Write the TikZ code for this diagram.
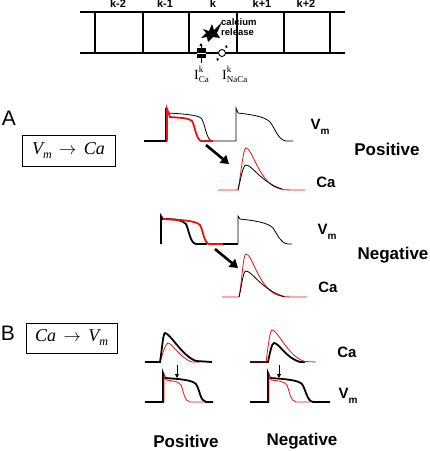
\documentclass[tikz,border=0pt]{standalone}
\usepackage{fontspec}
\setmainfont{Liberation Sans}
\newfontfamily\tms{Liberation Serif}
\usetikzlibrary{arrows.meta}
\definecolor{apred}{RGB}{230,20,20}
\begin{document}
\begin{tikzpicture}[x=1pt,y=-1pt,
  cable/.style={line width=1.4pt},
  klbl/.style={font=\bfseries\fontsize{11}{11}\selectfont, inner sep=0pt},
  sig/.style={font=\bfseries\fontsize{15}{15}\selectfont, inner sep=0pt},
  big/.style={font=\bfseries\fontsize{17}{17}\selectfont, inner sep=0pt},
  panel/.style={font=\fontsize{21}{21}\selectfont, inner sep=0pt},
  eqbox/.style={draw, line width=0.8pt, minimum width=93pt, minimum height=31pt, inner sep=0pt, font=\tms\itshape\fontsize{18}{18}\selectfont},
  bk/.style={line width=0.8pt, black},
  bkt/.style={line width=1.8pt, black},
  rd/.style={line width=0.8pt, apred},
  rdt/.style={line width=1.8pt, apred},
  bigarrow/.style={line width=2.6pt, -{Triangle[length=8pt,width=10pt]}},
  smallarrow/.style={line width=0.9pt, -{Triangle[length=4pt,width=4pt]}}
]
\useasboundingbox[fill=white] (0,0) rectangle (430,451);

% ---------- cable ----------
\coordinate (cL1) at (80,12); \coordinate (cR1) at (345,12);
\coordinate (cL2) at (80,53); \coordinate (cR2) at (345,53);
\draw[cable] (cL1) -- (cR1);
\draw[cable] (cL2) -- (cR2);
\foreach \x in {95,143,189,237,284,330} \draw[cable] (\x,12) -- (\x,53);
\node[klbl] (k2m) at (118,4) {k-2};
\node[klbl] (k1m) at (165,4) {k-1};
\node[klbl] (k0) at (213,4) {k};
\node[klbl] (k1p) at (262,4) {k+1};
\node[klbl] (k2p) at (306,4) {k+2};
\node[font=\bfseries\fontsize{9.5}{10.5}\selectfont, align=left, inner sep=0pt, anchor=west] (rel) at (221,27) {calcium\\release};
% starburst
\fill (212,24) -- (214,30) -- (222,22) -- (217,33) -- (220,38) -- (213,37) -- (208,42) -- (207,37) -- (201,38) -- (206,33) -- (203,29) -- (209,31) -- cycle;
% I_Ca channel
\draw[line width=0.8pt, -{Triangle[length=3pt,width=3pt]}] (201,63) -- (201,43);
\fill (197,48) rectangle (206,58);
\draw[white, line width=0.5pt] (197,53) -- (206,53);
% NaCa exchanger
\node[draw, circle, fill=white, line width=0.9pt, minimum size=7pt, inner sep=0pt] (nax) at (222,53) {};
\draw[line width=0.7pt, -{Triangle[length=2.5pt,width=2.5pt]}] (218,58) -- (217,61);
\draw[line width=0.7pt, -{Triangle[length=2.5pt,width=2.5pt]}] (226,48) -- (227,45);
\node[font=\tms\fontsize{14}{14}\selectfont, inner sep=0pt, anchor=base west] (ica) at (194,79) {I\rlap{\raisebox{7pt}{\fontsize{9}{9}\selectfont k}}\raisebox{-3pt}{\fontsize{9}{9}\selectfont Ca}};
\node[font=\tms\fontsize{14}{14}\selectfont, inner sep=0pt, anchor=base west] (inaca) at (222,79) {I\rlap{\raisebox{7pt}{\fontsize{9}{9}\selectfont k}}\raisebox{-3pt}{\fontsize{9}{9}\selectfont NaCa}};

% ---------- Panel A ----------
\node[panel] (pA) at (9,118) {A};
\node[eqbox] (boxA) at (68.5,150.5) {V\raisebox{-4pt}{\fontsize{12}{12}\selectfont m}\ \,$\rightarrow$\ \,Ca};

% positive Vm
\draw[bkt] (144,141) -- (166,141) -- (166,108);
\draw[bk] (166,108) -- (168,113) .. controls (185,114) and (197,115) .. (201,118) .. controls (205,122) and (206,140) .. (212,141) -- (236,141) -- (236,108) -- (238,113) .. controls (255,115) and (265,117) .. (270,122) .. controls (275,128) and (278,140) .. (286,141) -- (293,141);
\draw[rdt] (167,141) -- (167,109) -- (170,117) .. controls (182,118) and (189,118) .. (192,121) .. controls (195,126) and (196,139) .. (201,141) -- (213,141);
\coordinate (aP1) at (206,145); \coordinate (aP2) at (229,164);
\draw[bigarrow] (aP1) -- (aP2);
% positive Ca
\draw[rd] (218,190) -- (238,190) .. controls (241,175) and (243,148) .. (246,148) .. controls (252,148) and (258,178) .. (275,187) .. controls (282,190) .. (305,190);
\draw[bk] (238,190) .. controls (241,178) and (243,165) .. (246,165) .. controls (252,165) and (262,183) .. (282,189);
\node[sig] (vA1) at (320,127) {V\raisebox{-5pt}{\fontsize{10}{10}\selectfont m}};
\node[big] (posA) at (387,149) {Positive};
\node[sig] (caA1) at (326,182) {Ca};

% negative Vm
\draw[bkt] (161,244) -- (161,216) -- (163,219) .. controls (175,219) and (182,220) .. (186,224) .. controls (189,230) and (190,243) .. (196,244) -- (207,244);
\draw[rdt] (163,219) .. controls (185,220) and (196,221) .. (200,225) .. controls (203,230) and (204,243) .. (209,244) -- (223,244);
\draw[bkt] (223,244) -- (238,244);
\draw[bk] (238,244) -- (238,216) -- (240,219) .. controls (258,221) and (268,223) .. (273,228) .. controls (278,235) and (280,243) .. (288,244) -- (292,244);
\coordinate (aN1) at (215,249); \coordinate (aN2) at (238,268);
\draw[bigarrow] (aN1) -- (aN2);
% negative Ca
\draw[rd] (222,297) -- (239,297) .. controls (242,282) and (243,254) .. (246,254) .. controls (252,254) and (258,285) .. (275,294) .. controls (282,297) .. (307,297);
\draw[bk] (239,297) .. controls (242,285) and (243,271) .. (246,271) .. controls (252,271) and (262,290) .. (284,296.5);
\node[sig] (vA2) at (327,232) {V\raisebox{-5pt}{\fontsize{10}{10}\selectfont m}};
\node[big] (negA) at (393,255) {Negative};
\node[sig] (caA2) at (328,287) {Ca};

% ---------- Panel B ----------
\node[panel] (pB) at (8,333) {B};
\node[eqbox, minimum width=91pt, minimum height=30pt] (boxB) at (71.5,338) {Ca\ \,$\rightarrow$\ \,V\raisebox{-4pt}{\fontsize{12}{12}\selectfont m}};

% positive Ca
\draw[rd] (160,362) .. controls (163,352) and (166,343) .. (168,343) .. controls (172,343) and (180,358) .. (192,362) -- (200,362);
\draw[bkt] (145,362) -- (160,362) .. controls (162,350) and (163,333) .. (165,333) .. controls (170,333) and (182,356) .. (196,361) -- (212,362);
\coordinate (sP1) at (177,365); \coordinate (sP2) at (177,378);
\draw[smallarrow] (sP1) -- (sP2);
% positive Vm
\draw[bkt] (145,402) -- (163,402) -- (163,373) -- (165,378) .. controls (180,379) and (192,380) .. (196,384) .. controls (200,390) and (200,401) .. (206,402) -- (213,402);
\draw[rd] (164,402) -- (164,375) -- (166,380) .. controls (172,381) and (178,381) .. (181,385) .. controls (184,392) and (184,401) .. (190,402) -- (205,402);

% negative Ca
\draw[bkt] (250,362) -- (268,362) .. controls (270,352) and (272,343) .. (274,343) .. controls (279,343) and (286,358) .. (300,362) -- (305,362);
\draw[rd] (250,362) -- (266,362) .. controls (268,347) and (270,330) .. (272,330) .. controls (278,330) and (288,357) .. (305,361.5) -- (316,362);
\coordinate (sN1) at (279,365); \coordinate (sN2) at (279,378);
\draw[smallarrow] (sN1) -- (sN2);
% negative Vm
\draw[bkt] (250,402) -- (268,402) -- (268,373) -- (270,378) .. controls (285,379) and (298,380) .. (302,384) .. controls (306,390) and (307,401) .. (313,402) -- (330,402);
\draw[rd] (269,402) -- (269,375) -- (271,380) .. controls (278,381) and (284,381) .. (287,385) .. controls (290,392) and (290,401) .. (296,402) -- (310,402);

\node[sig] (caB) at (347,352) {Ca};
\node[sig] (vB) at (348,396) {V\raisebox{-5pt}{\fontsize{10}{10}\selectfont m}};
\node[big] (posB) at (186,441) {Positive};
\node[big] (negB) at (302,441) {Negative};
\end{tikzpicture}
\end{document}
